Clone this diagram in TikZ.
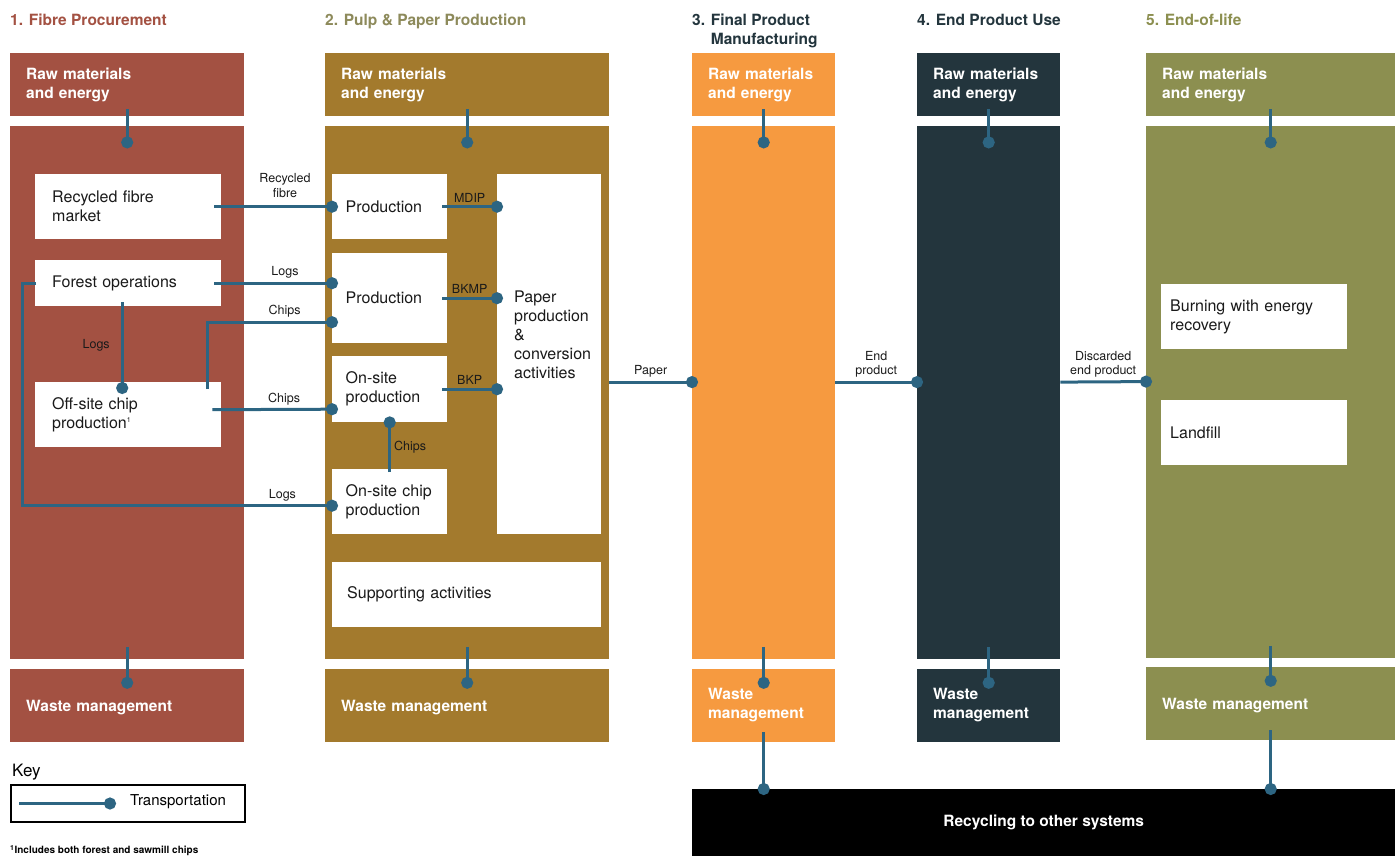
\documentclass[tikz,border=0pt]{standalone}
\usepackage{fontspec}
\setmainfont{TeX Gyre Heros}
\usetikzlibrary{positioning,arrows.meta}

\definecolor{fibre}{HTML}{A35142}
\definecolor{pulp}{HTML}{A37A2D}
\definecolor{pulptitle}{HTML}{8D8A5B}
\definecolor{manuf}{HTML}{F69A40}
\definecolor{enduse}{HTML}{23353D}
\definecolor{eol}{HTML}{8C8F50}
\definecolor{tblue}{HTML}{2D6582}
\definecolor{ink}{HTML}{1A1A1A}

\newcommand{\boxfont}{\fontsize{16}{19}\selectfont}
\newcommand{\headfont}{\bfseries\fontsize{15.5}{19}\selectfont}
\newcommand{\lblfont}{\fontsize{12.5}{14.5}\selectfont}

\begin{document}
\begin{tikzpicture}[x=1pt,y=-1pt,
    head/.style={anchor=north west,inner sep=0pt,align=left,font=\headfont},
    colbox/.style={anchor=north west,inner xsep=16pt,inner ysep=0pt,align=left,text=white,font=\headfont},
    c1/.style={fill=fibre,text width=202pt},
    c2/.style={fill=pulp,text width=252pt},
    c3/.style={fill=manuf,text width=111pt},
    c4/.style={fill=enduse,text width=111pt},
    c5/.style={fill=eol,text width=217pt},
    wbox/.style={fill=white,anchor=north west,inner xsep=15pt,inner ysep=0pt,align=left,text=ink,font=\boxfont},
    lbl/.style={font=\lblfont,align=center,text=ink,inner sep=3pt},
    transport/.style={draw=tblue,line width=3pt,-{Circle[length=12pt,width=12pt]},shorten >=-6pt}]
  \useasboundingbox (0,0) rectangle (1395,856);

  % stage titles
  \node[head,text=fibre]     (t1) at (10,14)   {1. Fibre Procurement};
  \node[head,text=pulptitle] (t2) at (325,14)  {2. Pulp \& Paper Production};
  \node[head,text=enduse]    (t3) at (692,14)  {3. Final Product\\\hphantom{3. }Manufacturing};
  \node[head,text=enduse]    (t4) at (917,14)  {4. End Product Use};
  \node[head,text=eol]       (t5) at (1146,14) {5. End-of-life};

  % columns
  \node[colbox,c1,minimum height=63pt] (raw1) at (10,53)   {Raw materials\\and energy};
  \node[colbox,c2,minimum height=63pt] (raw2) at (325,53)  {Raw materials\\and energy};
  \node[colbox,c3,minimum height=63pt] (raw3) at (692,53)  {Raw materials\\and energy};
  \node[colbox,c4,minimum height=63pt] (raw4) at (917,53)  {Raw materials\\and energy};
  \node[colbox,c5,minimum height=63pt] (raw5) at (1146,53) {Raw materials\\and energy};

  \node[colbox,c1,minimum height=533pt] (body1) [below=9pt of raw1] {};
  \node[colbox,c2,minimum height=533pt] (body2) [below=9pt of raw2] {};
  \node[colbox,c3,minimum height=533pt] (body3) [below=9pt of raw3] {};
  \node[colbox,c4,minimum height=533pt] (body4) [below=9pt of raw4] {};
  \node[colbox,c5,minimum height=532pt] (body5) [below=9pt of raw5] {};

  \node[colbox,c1,minimum height=73pt,text depth=-4pt] (waste1) [below=10pt of body1] {Waste management};
  \node[colbox,c2,minimum height=73pt,text depth=-4pt] (waste2) [below=10pt of body2] {Waste management};
  \node[colbox,c3,minimum height=73pt] (waste3) [below=10pt of body3] {Waste\\management};
  \node[colbox,c4,minimum height=73pt] (waste4) [below=10pt of body4] {Waste\\management};
  \node[colbox,c5,minimum height=73pt,text depth=-4pt] (waste5) [below=9pt of body5]  {Waste management};

  \node[fill=black,text=white,font=\headfont,anchor=north west,inner sep=0pt,
        minimum width=703pt,minimum height=67pt] (recsys) at (692,789) {Recycling to other systems};

  % fibre procurement
  \node[wbox,text width=152pt,inner xsep=17pt,minimum height=65pt] (rfm)     at (35,174) {Recycled fibre\\market};
  \node[wbox,text width=152pt,inner xsep=17pt,minimum height=46pt] (forest)  at (35,260) {Forest operations};
  \node[wbox,text width=152pt,inner xsep=17pt,minimum height=65pt] (offsite) at (35,382) {Off-site chip\\production\textsuperscript{\scriptsize 1}};

  % pulp and paper
  \node[wbox,text width=88pt,inner xsep=13.5pt,minimum height=65pt] (prod1)  at (332,174) {Production};
  \node[wbox,text width=88pt,inner xsep=13.5pt,minimum height=90pt] (prod2)  at (332,253) {Production};
  \node[wbox,text width=88pt,inner xsep=13.5pt,minimum height=66pt] (onsite) at (332,356) {On-site\\production};
  \node[wbox,text width=88pt,inner xsep=13.5pt,minimum height=65pt] (onchip) at (332,469) {On-site chip\\production};
  \node[wbox,text width=74pt,minimum height=360pt] (ppc) at (497,174) {};
  \node[anchor=north west,inner sep=0pt,align=left,text=ink,font=\boxfont] (ppclab) at (514,291)
    {Paper\\production\\\&\\conversion\\activities};
  \node[wbox,text width=239pt,minimum height=65pt] (support) at (332,562) {Supporting activities};

  % end-of-life
  \node[wbox,text width=168pt,inner xsep=9pt,minimum height=65pt] (burn)     at (1161,284) {Burning with energy\\recovery};
  \node[wbox,text width=168pt,inner xsep=9pt,minimum height=65pt] (landfill) at (1161,400) {Landfill};

  % transport in and out of every stage
  \foreach \i in {1,...,5} {
    \draw[transport] ([yshift=7pt]raw\i.south) -- ([yshift=-17pt]body\i.north);
    \draw[transport] ([yshift=12pt]body\i.south) -- ([yshift=-14pt]waste\i.north);
  }
  \draw[transport] ([yshift=10pt]waste3.south) -- (waste3.south |- recsys.north);
  \draw[transport] ([yshift=10pt]waste5.south) -- (waste5.south |- recsys.north);

  \foreach \a/\b/\t in {body2/body3/Paper,body3/body4/{End\\product},body4/body5/{Discarded\\end product}}
    \draw[transport] ([yshift=10pt]\a.east) -- node[lbl,above] {\t} ([yshift=10pt]\b.west);

  % fibre flows
  \draw[transport] ([xshift=-7pt]rfm.east) -- node[lbl,above=5pt,pos=.6] {Recycled\\fibre} (prod1.west);
  \draw[transport] ([xshift=-7pt]forest.east) -- node[lbl,above,pos=.6] {Logs} (forest.east -| prod2.west);
  \draw[transport] ([xshift=-14pt,yshift=-7pt]offsite.north east) |- node[lbl,above,pos=.81] {Chips} ([yshift=-24pt]prod2.west);
  \draw[transport] ([xshift=-6pt,yshift=4pt]forest.south) -- node[lbl,left=8pt] {Logs} ([xshift=-6pt,yshift=-6pt]offsite.north);
  \draw[transport] ([xshift=-9pt,yshift=5pt]offsite.east) -- node[lbl,above,pos=.6] {Chips} ([yshift=-20pt]onsite.west);
  \draw[transport] ([xshift=1pt]forest.west) -- ++(-14,0) |- node[lbl,above,pos=.92] {Logs} ([yshift=-4pt]onchip.west);

  % pulp flows
  \draw[transport] ([xshift=-5pt]prod1.east) -- node[lbl,above] {MDIP} (prod1.east -| ppc.west);
  \draw[transport] ([xshift=-5pt]prod2.east) -- node[lbl,above] {BKMP} (prod2.east -| ppc.west);
  \draw[transport] ([xshift=-5pt]onsite.east) -- node[lbl,above] {BKP} (onsite.east -| ppc.west);
  \draw[transport] ([yshift=-3pt]onchip.north) -- node[lbl,right] {Chips} (onsite.south);

  % key
  \node[anchor=west,inner sep=0pt,font=\fontsize{17}{20}\selectfont] (keyhead) at (12,772) {Key};
  \node[draw=black,line width=2pt,anchor=north west,minimum width=234pt,minimum height=37pt] (keybox) at (10,784) {};
  \draw[transport] ([xshift=9pt]keybox.west) -- ([xshift=100pt]keybox.west);
  \node[anchor=west,inner sep=0pt,font=\fontsize{15}{18}\selectfont] (keytext) at (130,802) {Transportation};
  \node[anchor=north west,inner sep=0pt,font=\bfseries\fontsize{10}{12}\selectfont] (fnote) at (10,845)
    {\textsuperscript{1}Includes both forest and sawmill chips};
\end{tikzpicture}
\end{document}
